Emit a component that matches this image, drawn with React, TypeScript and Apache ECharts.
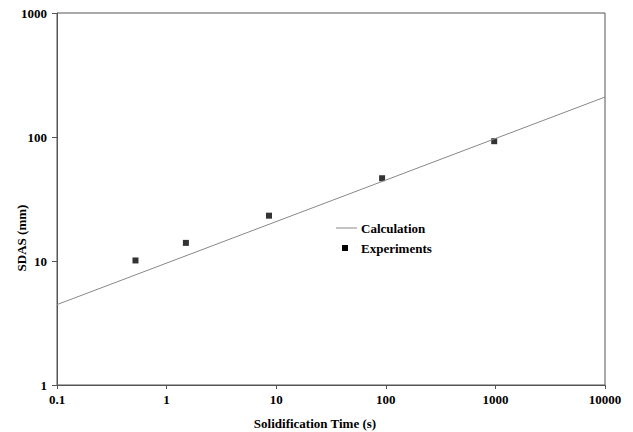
import React, { useEffect, useRef } from "react";
import * as echarts from "echarts";

const xTickLabels = ["0.1", "1", "10", "100", "1000", "10000"];
const yTickLabels = ["1", "10", "100", "1000"];
const calcTime = [0.1, 10000];
const calcSdas = [4.45, 210];
const expTime = [0.52, 1.5, 8.6, 92.5, 975];
const expSdas = [10.1, 14.0, 23.2, 46.5, 92.5];

const FONT = "'Liberation Serif', 'Times New Roman', serif";

function lookup(labels: string[], v: number, base: number) {
  const i = Math.round(Math.log10(v)) - base;
  return labels[i] ?? String(v);
}

export default function App() {
  const ref = useRef<HTMLDivElement>(null);
  useEffect(() => {
    if (!ref.current) return;
    const chart = echarts.init(ref.current, null, { renderer: "svg" });
    const labelStyle = {
      color: "#000",
      fontFamily: FONT,
      fontWeight: "bold" as const,
      fontSize: 13,
    };
    chart.setOption({
      animation: false,
      backgroundColor: "#fff",
      grid: {
        left: 57,
        top: 13,
        width: 548,
        height: 372,
        show: true,
        borderColor: "#555",
        borderWidth: 1,
        backgroundColor: "transparent",
      },
      xAxis: {
        type: "log",
        logBase: 10,
        min: 0.1,
        max: 10000,
        splitNumber: 5,
        axisLine: { lineStyle: { color: "#555", width: 1 } },
        axisTick: { show: true, length: 4, inside: false, lineStyle: { color: "#555" } },
        splitLine: { show: false },
        minorTick: { show: false },
        axisLabel: {
          ...labelStyle,
          margin: 8,
          formatter: (v: number) => lookup(xTickLabels, v, -1),
        },
      },
      yAxis: {
        type: "log",
        logBase: 10,
        min: 1,
        max: 1000,
        splitNumber: 3,
        axisLine: { show: true, lineStyle: { color: "#555", width: 1 } },
        axisTick: { show: true, length: 5, inside: false, lineStyle: { color: "#555" } },
        splitLine: { show: false },
        axisLabel: {
          ...labelStyle,
          margin: 10,
          formatter: (v: number) => lookup(yTickLabels, v, 0),
        },
      },
      series: [
        {
          name: "Calculation",
          type: "line",
          data: calcTime.map((t, i) => [t, calcSdas[i]]),
          symbol: "none",
          lineStyle: { color: "#888", width: 1 },
          silent: true,
        },
        {
          name: "Experiments",
          type: "scatter",
          data: expTime.map((t, i) => [t, expSdas[i]]),
          symbol: "rect",
          symbolSize: 6,
          itemStyle: { color: "#000" },
        },
      ],
      graphic: [
        {
          type: "text",
          x: 315,
          y: 423,
          style: {
            text: "Solidification Time (s)",
            fill: "#000",
            font: `bold 13px ${FONT}`,
            align: "center",
            verticalAlign: "middle",
          },
        },
        {
          type: "text",
          x: 21.5,
          y: 238,
          rotation: Math.PI / 2,
          style: {
            text: "SDAS (mm)",
            fill: "#000",
            font: `bold 13px ${FONT}`,
            align: "center",
            verticalAlign: "middle",
          },
        },
        {
          type: "line",
          shape: { x1: 336, y1: 228, x2: 357, y2: 228 },
          style: { stroke: "#888", lineWidth: 1 },
        },
        {
          type: "rect",
          shape: { x: 342, y: 245, width: 6, height: 6 },
          style: { fill: "#000" },
        },
        {
          type: "text",
          x: 361,
          y: 228,
          style: {
            text: "Calculation",
            fill: "#000",
            font: `bold 13px ${FONT}`,
            verticalAlign: "middle",
          },
        },
        {
          type: "text",
          x: 361,
          y: 248,
          style: {
            text: "Experiments",
            fill: "#000",
            font: `bold 13px ${FONT}`,
            verticalAlign: "middle",
          },
        },
      ],
    });
    return () => chart.dispose();
  }, []);
  return (
    <div
      ref={ref}
      style={{ position: "fixed", left: 0, top: 0, width: 633, height: 432, background: "#fff" }}
    />
  );
}
